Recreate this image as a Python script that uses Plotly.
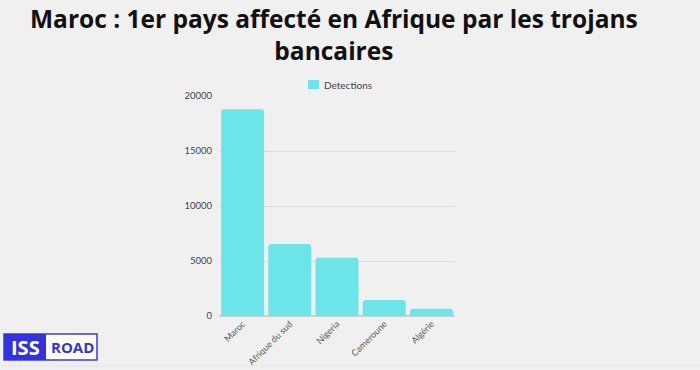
import plotly.graph_objects as go

countries = ["Maroc", "Afrique du sud", "Nigeria", "Cameroune", "Algérie"]
detections = [18800, 6550, 5300, 1450, 650]
y_ticks = [0, 5000, 10000, 15000, 20000]
series_name = "Detections"
title_lines = ["Maroc : 1er pays affecté en Afrique par les trojans", "bancaires"]

W, H = 700, 370
L, R, T, B = 219, 245, 96, 54
pw, ph = W - L - R, H - T - B
bar_color = "#6ce5e8"

def px(x):
    return (x - L) / pw

def py(y):
    return (H - B - y) / ph

fig = go.Figure(go.Bar(
    x=countries, y=detections, name=series_name,
    marker=dict(color=bar_color, line=dict(width=0)),
    showlegend=False,
))

bg = "#f0f0f0"
fig.update_layout(
    width=W, height=H,
    margin=dict(l=L, r=R, t=T, b=B, pad=0, autoexpand=False),
    paper_bgcolor=bg, plot_bgcolor=bg,
    bargap=0.09, barcornerradius=3,
    font=dict(family="Lato, Open Sans, sans-serif", color="#555", size=9),
    showlegend=False,
    xaxis=dict(tickangle=-45, showgrid=False, showline=False, ticks="", automargin=False,
               tickfont=dict(size=9, color="#555"), range=[-0.5, 4.5]),
    yaxis=dict(range=[0, 20000], tickvals=y_ticks, ticktext=[str(v) for v in y_ticks],
               gridcolor="#dcdcdc", gridwidth=1, zeroline=True, zerolinecolor="#cfcfcf",
               automargin=False,
               tickfont=dict(size=9.5, color="#444"), ticks="", ticklabelstandoff=6),
)

# Title (two lines, one text)
fig.add_annotation(text="<b>" + "<br>".join(title_lines) + "</b>", xref="paper", yref="paper",
                   x=px(334), y=py(35), showarrow=False, xanchor="center", yanchor="middle",
                   font=dict(family="Open Sans", size=24.5, color="#111"))

# Legend (custom)
shapes = [
    dict(type="rect", xref="paper", yref="paper", x0=px(308), x1=px(319), y0=py(89), y1=py(80),
         fillcolor=bar_color, line=dict(width=0)),
    # ISS ROAD logo
    dict(type="rect", xref="paper", yref="paper", x0=px(4), x1=px(97), y0=py(360), y1=py(334),
         fillcolor="white", line=dict(color="#3a3ae0", width=1.5), layer="above"),
    dict(type="rect", xref="paper", yref="paper", x0=px(4), x1=px(46), y0=py(360), y1=py(334),
         fillcolor="#3333dd", line=dict(width=0), layer="above"),
    dict(type="line", xref="paper", yref="paper", x0=px(0), x1=px(700), y0=py(366), y1=py(366),
         line=dict(color="#e4e4e4", width=1)),
]
fig.update_layout(shapes=shapes)
fig.add_annotation(text=series_name, xref="paper", yref="paper", x=px(322), y=py(85),
                   showarrow=False, xanchor="left", yanchor="middle",
                   font=dict(family="Lato", size=10, color="#444"))
fig.add_annotation(text="<b>ISS</b>", xref="paper", yref="paper", x=px(25), y=py(347),
                   showarrow=False, font=dict(family="Open Sans", size=20, color="white"),
                   xanchor="center", yanchor="middle")
fig.add_annotation(text="<b>ROAD</b>", xref="paper", yref="paper", x=px(72), y=py(347),
                   showarrow=False, font=dict(family="Open Sans", size=15, color="#3333dd"),
                   xanchor="center", yanchor="middle")

fig.write_html("out.html")
